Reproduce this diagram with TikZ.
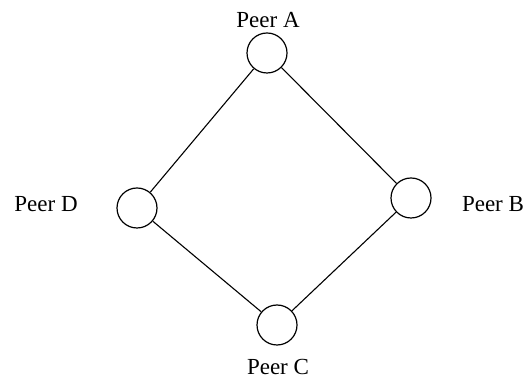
\documentclass[tikz,border=0pt]{standalone}
\usepackage{fontspec}
\setmainfont{Liberation Serif}
\begin{document}
\begin{tikzpicture}[x=1pt,y=1pt,
  peer/.style={circle,draw,line width=1.2pt,minimum size=40pt,inner sep=0pt},
  lbl/.style={font=\fontsize{23}{26}\selectfont,inner sep=0pt},
  link/.style={line width=1.1pt}]
\useasboundingbox (0,0) rectangle (529,379);
\node[peer] (A) at (267,326) {};
\node[peer] (D) at (137,171) {};
\node[peer] (B) at (411,181) {};
\node[peer] (C) at (277,54) {};
\node[lbl] (la) at (268,359) {Peer A};
\node[lbl] (ld) at (46,175) {Peer D};
\node[lbl] (lb) at (493,175) {Peer B};
\node[lbl] (lc) at (278,12) {Peer C};
\draw[link] (A) -- (D);
\draw[link] (A) -- (B);
\draw[link] (D) -- (C);
\draw[link] (B) -- (C);
\end{tikzpicture}
\end{document}
